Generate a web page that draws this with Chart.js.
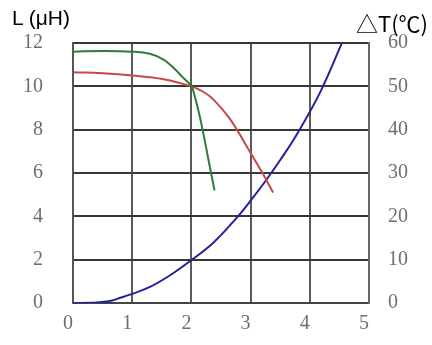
<!DOCTYPE html>
<html>
<head>
<meta charset="utf-8">
<script src="https://cdn.jsdelivr.net/npm/chart.js@4"></script>
<style>
  html, body { margin: 0; padding: 0; background: #fff; overflow: hidden; }
  #wrap { position: relative; width: 432px; height: 345px; }
  .ttl { position: absolute; font-family: "Liberation Sans", "Noto Sans CJK SC", sans-serif; font-size: 21px; color: #000; white-space: nowrap; }
</style>
</head>
<body>
<div id="wrap">
  <canvas id="chart" width="432" height="345"></canvas>
  <div class="ttl" style="left:12px; top:6px;">L (μH)</div>
  <div class="ttl" style="left:356px; top:6px; font-family:'Noto Sans CJK SC', sans-serif; font-size:22px;">△T(℃)</div>
</div>
<script>
// L vs current (green, red) and temperature rise (blue)
const greenX = [0, 0.5, 1.0, 1.3, 1.53, 1.7, 1.86, 2.0, 2.06, 2.13, 2.2, 2.3, 2.39];
const greenL = [11.6, 11.63, 11.6, 11.5, 11.23, 10.85, 10.4, 10.0, 9.5, 8.75, 7.85, 6.45, 5.2];

const redX = [0, 0.5, 1.0, 1.53, 2.0, 2.2, 2.37, 2.65, 2.93, 3.21, 3.38];
const redL = [10.65, 10.6, 10.5, 10.33, 10.0, 9.75, 9.4, 8.5, 7.25, 5.95, 5.1];

const blueX = [0, 0.3, 0.6, 0.8, 1.0, 1.3, 1.64, 2.0, 2.37, 2.76, 3.0, 3.27, 3.5, 3.78, 4.17, 4.54];
const blueT = [0, 0.05, 0.4, 1.2, 2.1, 3.7, 6.4, 9.9, 13.9, 19.6, 23.6, 28.5, 33.0, 38.9, 48.5, 59.9];

const xTicks = [0, 1, 2, 3, 4, 5];
const lTicks = [0, 2, 4, 6, 8, 10, 12];
const tTicks = [0, 10, 20, 30, 40, 50, 60];

const pts = (xs, ys) => xs.map((x, i) => ({ x, y: ys[i] }));

const tickFont = { family: "'Liberation Serif', 'DejaVu Serif', serif", size: 20 };
const tickColor = "#6e6e6e";

new Chart(document.getElementById("chart"), {
  type: "line",
  data: {
    datasets: [
      {
        data: pts(greenX, greenL),
        borderColor: "#2f7d34",
        borderWidth: 2,
        yAxisID: "yL",
      },
      {
        data: pts(redX, redL),
        borderColor: "#c9464a",
        borderWidth: 2,
        yAxisID: "yL",
      },
      {
        data: pts(blueX, blueT),
        borderColor: "#22239a",
        borderWidth: 2,
        yAxisID: "yT",
      },
    ],
  },
  options: {
    responsive: false,
    animation: false,
    layout: { padding: { top: 43, left: 0, right: 0, bottom: 0 } },
    elements: {
      point: { radius: 0 },
      line: { tension: 0.4 },
    },
    plugins: {
      legend: { display: false },
      tooltip: { enabled: false },
    },
    scales: {
      x: {
        type: "linear",
        min: 0,
        max: 5,
        afterBuildTicks: (s) => { s.ticks = xTicks.map((v) => ({ value: v })); },
        afterFit: (s) => { s.height = 38; },
        grid: { color: "#5a5a5a", lineWidth: 2, drawTicks: false },
        border: { color: "#444", width: 2 },
        ticks: { font: tickFont, color: tickColor, padding: 9, labelOffset: -5 },
      },
      yL: {
        position: "left",
        min: 0,
        max: 12,
        afterBuildTicks: (s) => { s.ticks = lTicks.map((v) => ({ value: v })); },
        afterFit: (s) => { s.width = 73; },
        grid: { color: "#383838", lineWidth: 2, drawTicks: false },
        border: { color: "#555", width: 2 },
        ticks: { font: tickFont, color: tickColor, padding: 30 },
      },
      yT: {
        position: "right",
        min: 0,
        max: 60,
        afterBuildTicks: (s) => { s.ticks = tTicks.map((v) => ({ value: v })); },
        afterFit: (s) => { s.width = 63; },
        grid: { display: false, drawTicks: false },
        border: { color: "#666", width: 2 },
        ticks: { font: tickFont, color: tickColor, padding: 19 },
      },
    },
  },
});
</script>
</body>
</html>
